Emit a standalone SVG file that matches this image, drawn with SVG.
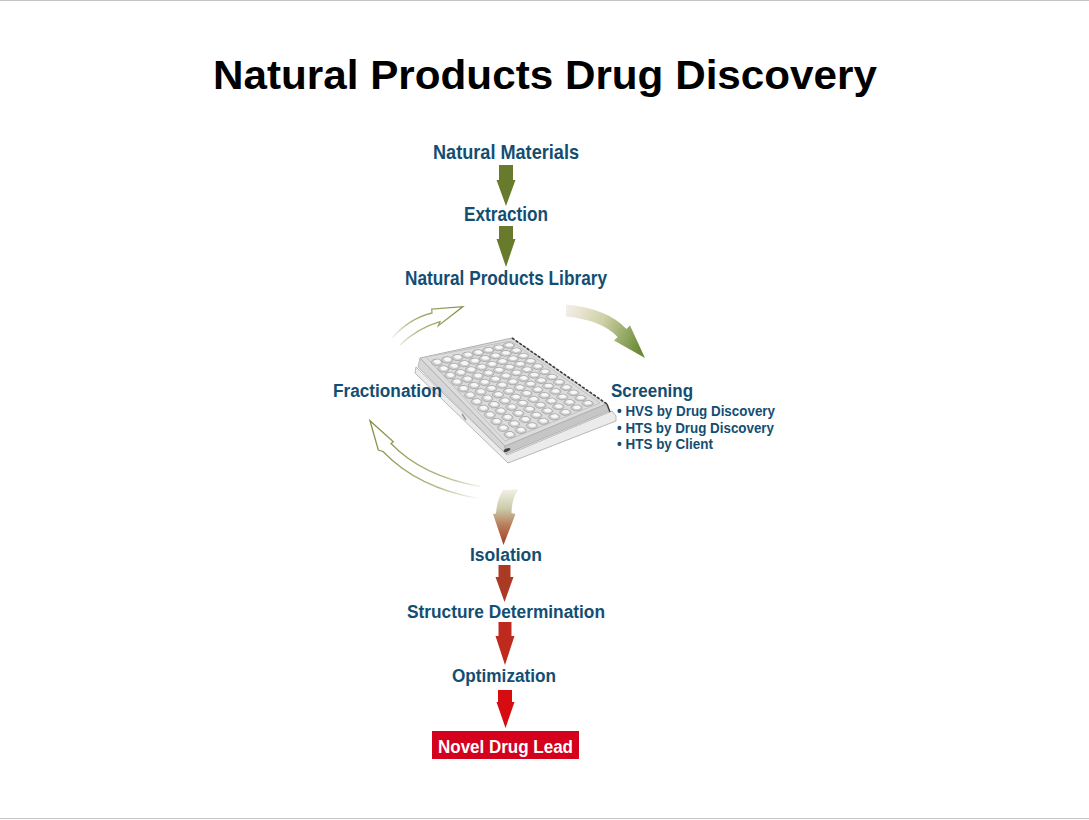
<svg xmlns="http://www.w3.org/2000/svg" xmlns:xlink="http://www.w3.org/1999/xlink" width="1089" height="820" viewBox="0 0 1089 820">
<style>
.lbl{font-family:"Liberation Sans",Arial,sans-serif;font-weight:bold;fill:#134e72}
.title{font-family:"Liberation Sans",Arial,sans-serif;font-weight:bold;fill:#000;font-size:41px}
.well{fill:#cfcfcf;stroke:#9c9c9c;stroke-width:0.7;vector-effect:non-scaling-stroke}
.hl{fill:#f7f7f7}
.green{fill:#687b2c}
</style>
<defs>
<linearGradient id="gTR" gradientUnits="userSpaceOnUse" x1="566" y1="310" x2="642" y2="345">
<stop offset="0" stop-color="#f4eee8"/>
<stop offset="0.45" stop-color="#cfd1a8"/>
<stop offset="1" stop-color="#6a8a36"/>
</linearGradient>
<linearGradient id="gBot" gradientUnits="userSpaceOnUse" x1="0" y1="489" x2="0" y2="545">
<stop offset="0" stop-color="#f3f1e4"/>
<stop offset="0.35" stop-color="#cbcbab"/>
<stop offset="0.65" stop-color="#b87c58"/>
<stop offset="1" stop-color="#9f3e24"/>
</linearGradient>
<linearGradient id="gTL" gradientUnits="userSpaceOnUse" x1="390" y1="342" x2="462" y2="307">
<stop offset="0" stop-color="#8a9a50" stop-opacity="0"/>
<stop offset="0.35" stop-color="#8a9a50" stop-opacity="0.7"/>
<stop offset="1" stop-color="#7d8f40" stop-opacity="1"/>
</linearGradient>
<linearGradient id="gBL" gradientUnits="userSpaceOnUse" x1="482" y1="494" x2="370" y2="421">
<stop offset="0" stop-color="#8a9a50" stop-opacity="0"/>
<stop offset="0.3" stop-color="#8a9a50" stop-opacity="0.7"/>
<stop offset="1" stop-color="#7d8f40" stop-opacity="1"/>
</linearGradient>
<g id="w"><circle class="well" cx="0" cy="0" r="0.44"/><circle class="hl" cx="-0.06" cy="0.08" r="0.27"/></g>
<g id="row">
<use xlink:href="#w" x="1"/><use xlink:href="#w" x="2"/><use xlink:href="#w" x="3"/><use xlink:href="#w" x="4"/><use xlink:href="#w" x="5"/><use xlink:href="#w" x="6"/><use xlink:href="#w" x="7"/><use xlink:href="#w" x="8"/><use xlink:href="#w" x="9"/><use xlink:href="#w" x="10"/><use xlink:href="#w" x="11"/><use xlink:href="#w" x="12"/>
</g>
</defs>
<rect width="1089" height="820" fill="#fff"/>
<line x1="0" y1="0.5" x2="1089" y2="0.5" stroke="#c4c4c4"/>
<line x1="0" y1="818.5" x2="1089" y2="818.5" stroke="#c4c4c4"/>

<text class="title" x="213" y="89" textLength="664" lengthAdjust="spacingAndGlyphs">Natural Products Drug Discovery</text>

<g id="plate">
<polygon points="416,367 507,455 612,411 616,416 616,421 508,463 415,373" fill="#ebebeb" stroke="#b8b8b8" stroke-width="1"/>
<polygon points="420,358 505,446 506,454 418,367" fill="#d6d6d6" stroke="#b0b0b0" stroke-width="0.8"/>
<polygon points="505,446 606,404 609,411 506,454" fill="#c6c6c6" stroke="#a8a8a8" stroke-width="0.8"/>
<polygon points="420,358 512,338 606,404 505,446" fill="#dcdcdc" stroke="#b0b0b0" stroke-width="1"/>
<polygon points="426,357 511,341 600,403 505,441" fill="none" stroke="#c2c2c2" stroke-width="1"/>
<use xlink:href="#row" transform="matrix(6.615,6.582,10.72,-3.44,430.22,355.78)"/>
<use xlink:href="#row" transform="matrix(6.692,6.393,10.72,-3.44,440.44,353.56)"/>
<use xlink:href="#row" transform="matrix(6.769,6.205,10.72,-3.44,450.67,351.33)"/>
<use xlink:href="#row" transform="matrix(6.846,6.017,10.72,-3.44,460.89,349.11)"/>
<use xlink:href="#row" transform="matrix(6.923,5.829,10.72,-3.44,471.11,346.89)"/>
<use xlink:href="#row" transform="matrix(7.0,5.641,10.72,-3.44,481.33,344.67)"/>
<use xlink:href="#row" transform="matrix(7.077,5.453,10.72,-3.44,491.56,342.44)"/>
<use xlink:href="#row" transform="matrix(7.154,5.265,10.72,-3.44,501.78,340.22)"/>
<line x1="512" y1="338" x2="607" y2="404" stroke="#3c3c3c" stroke-width="1.6" stroke-dasharray="3,1.5"/>
<line x1="607" y1="404" x2="610" y2="412" stroke="#3c3c3c" stroke-width="1.4"/>
<ellipse cx="507" cy="450" rx="3.5" ry="1.6" fill="#444" transform="rotate(-20 507 450)"/>
<line x1="462" y1="414" x2="466" y2="420" stroke="#999" stroke-width="1.5"/>
</g>

<g id="n-natural-materials"><text class="lbl" x="433" y="159" font-size="21" textLength="146" lengthAdjust="spacingAndGlyphs">Natural Materials</text></g>
<g id="n-extraction"><text class="lbl" x="464" y="221" font-size="21" textLength="84" lengthAdjust="spacingAndGlyphs">Extraction</text></g>
<g id="n-library"><text class="lbl" x="405" y="285" font-size="21" textLength="202" lengthAdjust="spacingAndGlyphs">Natural Products Library</text></g>
<g id="n-fractionation"><text class="lbl" x="333" y="397" font-size="18" textLength="109" lengthAdjust="spacingAndGlyphs">Fractionation</text></g>
<g id="n-screening">
<text class="lbl" x="611" y="397" font-size="18" textLength="82" lengthAdjust="spacingAndGlyphs">Screening</text>
<text class="lbl" x="617" y="416" font-size="15" textLength="158" lengthAdjust="spacingAndGlyphs">• HVS by Drug Discovery</text>
<text class="lbl" x="617" y="432.5" font-size="15" textLength="157" lengthAdjust="spacingAndGlyphs">• HTS by Drug Discovery</text>
<text class="lbl" x="617" y="448.5" font-size="15" textLength="96" lengthAdjust="spacingAndGlyphs">• HTS by Client</text>
</g>
<g id="n-isolation"><text class="lbl" x="470" y="561" font-size="18" textLength="72" lengthAdjust="spacingAndGlyphs">Isolation</text></g>
<g id="n-structure"><text class="lbl" x="407" y="618" font-size="18" textLength="198" lengthAdjust="spacingAndGlyphs">Structure Determination</text></g>
<g id="n-optimization"><text class="lbl" x="452" y="682" font-size="18" textLength="104" lengthAdjust="spacingAndGlyphs">Optimization</text></g>
<g id="n-lead">
<rect x="432" y="731" width="147" height="28" fill="#d4001c"/>
<text x="438" y="753" font-family="Liberation Sans,Arial,sans-serif" font-weight="bold" font-size="19" fill="#fff" textLength="135" lengthAdjust="spacingAndGlyphs">Novel Drug Lead</text>
</g>

<g id="connectors">
<path class="green" d="M499,165 H513 V180 H515.5 L506,206 L496.5,180 H499 Z"/>
<path class="green" d="M499,226 H513 V239 H515.5 L506,267 L496.5,239 H499 Z"/>
<path d="M566,304.5 Q607.8,308.7 626.4,329 L630,325.6 L645,358 L614,340.4 L617.6,337 Q602.1,320.1 566,316.5 Z" fill="url(#gTR)"/>
<path d="M391.7,338.3 Q410,318 432,313 L431.7,309 L462.7,306.7 L438.3,325.7 L440,321.7 Q418,328 400,345" fill="none" stroke="url(#gTL)" stroke-width="1.3"/>
<path d="M480,486.5 Q422,476 391,443.5 L393.3,441.7 L370,420.7 L378.3,450 L383,451.5 Q418,488 478.5,498.5" fill="none" stroke="url(#gBL)" stroke-width="1.3"/>
<path d="M503,490 L518.5,489.5 Q512,497 511.5,513 L515.5,514 L503.5,545 L493,514 L496,513.5 Q497,499 503,490 Z" fill="url(#gBot)"/>
<path d="M498.5,565 H510.5 V577 H513.5 L504.5,602 L495.5,577 H498.5 Z" fill="#ab3a24"/>
<path d="M498.5,622 H511.5 V636 H514.5 L505,665 L495.5,636 H498.5 Z" fill="#bf2a1e"/>
<path d="M498,690 H512 V702 H514.5 L505.5,728 L496.5,702 H498 Z" fill="#d60c10"/>
</g>
</svg>
